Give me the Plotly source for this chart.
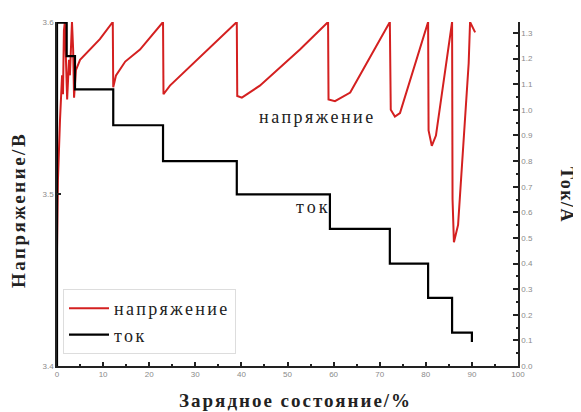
import plotly.graph_objects as go

# State of charge (%) and voltage (V)
soc_v = [0.0, 0.2, 0.65, 1.1, 1.3, 1.5, 1.7, 2.0, 2.2, 2.6, 2.8, 3.25, 3.5, 3.7, 4.1, 5.0, 7.2, 9.3,
         12.1, 12.2, 12.8, 14.8, 18.0, 23.0, 23.1, 24.5, 39.0, 39.1, 40.1, 44.0, 52.7, 58.8, 58.9,
         60.3, 63.6, 72.2, 72.4, 73.3, 74.4, 80.5, 80.6, 81.3, 82.2, 85.7, 85.8, 86.1, 87.0, 88.2,
         89.3, 89.6, 90.7]
voltage = [3.468, 3.508, 3.543, 3.569, 3.558, 3.595, 3.600, 3.561, 3.555, 3.578, 3.569, 3.600,
           3.584, 3.556, 3.572, 3.578, 3.584, 3.590,
           3.600, 3.562, 3.569, 3.577, 3.584, 3.600, 3.558, 3.563, 3.600, 3.557, 3.556, 3.563,
           3.584, 3.600, 3.555, 3.554, 3.559, 3.600, 3.549, 3.545, 3.547, 3.600, 3.537, 3.528,
           3.534, 3.600, 3.497, 3.472, 3.482, 3.528, 3.576, 3.600, 3.594]

# State of charge (%) and current (A) — step profile
soc_i = [0.0, 0.0, 2.1, 2.1, 3.9, 3.9, 12.2, 12.2, 23.0, 23.0, 39.0, 39.0, 59.2, 59.2,
         72.2, 72.2, 80.5, 80.5, 85.7, 85.7, 90.0, 90.0]
current = [0.0, 1.34, 1.34, 1.21, 1.21, 1.08, 1.08, 0.94, 0.94, 0.80, 0.80, 0.67, 0.67, 0.535,
           0.535, 0.40, 0.40, 0.266, 0.266, 0.13, 0.13, 0.094]

x_ticks = [0, 10, 20, 30, 40, 50, 60, 70, 80, 90, 100]
yl_ticks = [3.4, 3.5, 3.6]
yr_ticks = [0.0, 0.1, 0.2, 0.3, 0.4, 0.5, 0.6, 0.7, 0.8, 0.9, 1.0, 1.1, 1.2, 1.3]

red = "#d42020"
serif = "Liberation Serif"
tickfont = dict(family="Liberation Sans", size=8, color="#8a8a8a")

# page has an 8px body margin, so the figure is drawn 8px smaller and offset
OFF = 8
W, H = 581 - OFF, 412 - OFF
L, R, T, B = 57 - OFF, 63, 22 - OFF, 46
PW, PH = W - L - R, H - T - B


def px_x(px):
    return (px - OFF - L) / PW


def px_y(py):
    return (H - B - (py - OFF)) / PH


def spaced(s, sp):
    return f'<span style="letter-spacing:{sp}px">{s}</span>'


fig = go.Figure()
fig.add_trace(go.Scatter(x=soc_v, y=voltage, mode="lines", name=spaced("напряжение", 2.4),
                         line=dict(color=red, width=2), yaxis="y"))
fig.add_trace(go.Scatter(x=soc_i, y=current, mode="lines", name=spaced("ток", 2.4),
                         line=dict(color="black", width=2.2), yaxis="y2"))

fig.update_layout(
    width=W, height=H,
    margin=dict(l=L, r=R, t=T, b=B, autoexpand=False),
    paper_bgcolor="white", plot_bgcolor="white",
    showlegend=True,
    legend=dict(x=px_x(63), y=px_y(289), xanchor="left", yanchor="top",
                font=dict(family=serif, size=18, color="#222"),
                bordercolor="#dddddd", borderwidth=1, bgcolor="rgba(255,255,255,0.9)",
                tracegroupgap=0, itemwidth=40),
    xaxis=dict(range=[0, 100], tickvals=x_ticks, ticks="inside", ticklen=4, tickwidth=1.5,
               tickcolor="#222", showline=True, linecolor="#222", linewidth=1.5,
               showgrid=False, zeroline=False, tickfont=tickfont, automargin=False,
               minor=dict(dtick=5, ticks="inside", ticklen=2, tickcolor="#222")),
    yaxis=dict(range=[3.4, 3.6], tickvals=yl_ticks, ticks="inside", ticklen=4, tickwidth=1.5,
               tickcolor="#222", showline=True, linecolor="#222", linewidth=1.5,
               showgrid=False, zeroline=False, tickfont=tickfont, automargin=False),
    yaxis2=dict(range=[0, 1.343], tickvals=yr_ticks, tickformat=".1f", overlaying="y", side="right",
                ticks="inside", ticklen=5, tickwidth=1.5, tickcolor="#222",
                showline=True, linecolor="#222", linewidth=1.5, automargin=False,
                showgrid=False, zeroline=False, tickfont=tickfont,
                minor=dict(dtick=0.05, ticks="inside", ticklen=2, tickcolor="#222")),
    annotations=[
        dict(text=spaced("напряжение", 2.5), x=56.5, y=3.545, xref="x", yref="y", showarrow=False,
             font=dict(family=serif, size=18, color="#222")),
        dict(text=spaced("ток", 3), x=55.5, y=0.62, xref="x", yref="y2", showarrow=False,
             font=dict(family=serif, size=18, color="#222")),
        dict(text="<b>" + spaced("Зарядное состояние/%", 2) + "</b>", x=px_x(295), y=px_y(400),
             xref="paper", yref="paper", showarrow=False,
             xanchor="center", yanchor="middle",
             font=dict(family=serif, size=19, color="#222")),
        dict(text="<b>" + spaced("Напряжение/В", 2.5) + "</b>", x=px_x(18), y=px_y(210),
             xref="paper", yref="paper", showarrow=False, textangle=-90,
             xanchor="center", yanchor="middle",
             font=dict(family=serif, size=19, color="#222")),
        dict(text="<b>" + spaced("Ток/А", 1.5) + "</b>", x=px_x(567), y=px_y(195),
             xref="paper", yref="paper", showarrow=False, textangle=90,
             xanchor="center", yanchor="middle",
             font=dict(family=serif, size=18, color="#222")),
    ],
)

fig.write_html("out.html")
